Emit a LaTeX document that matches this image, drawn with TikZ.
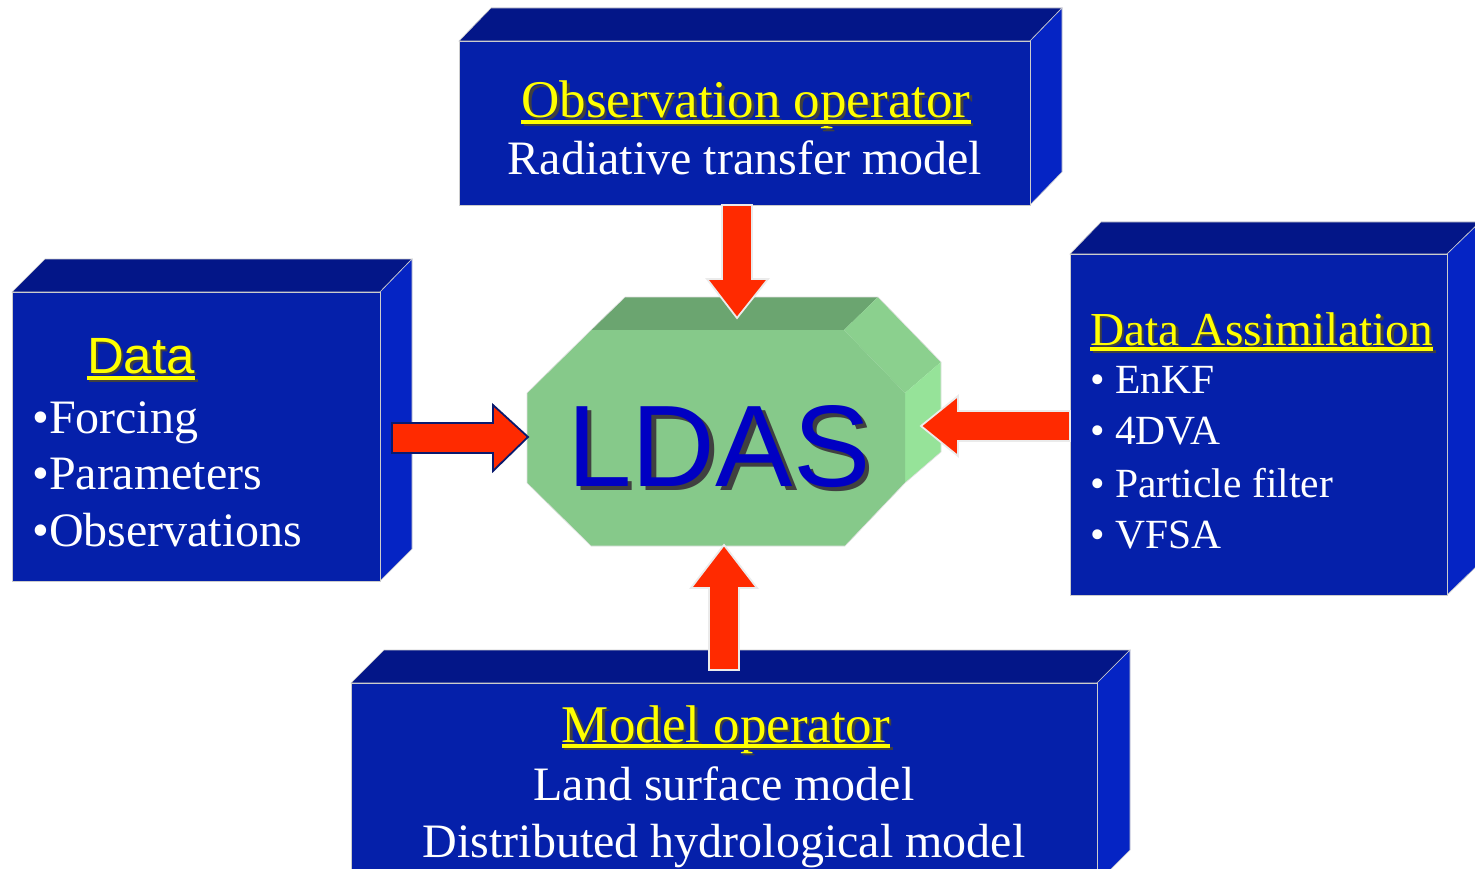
\documentclass[tikz,border=0pt]{standalone}
\usepackage{fontspec}
\setmainfont{Liberation Serif}
\newfontfamily\arialf{Liberation Sans}
\usetikzlibrary{calc}
\definecolor{boxfront}{RGB}{5,32,170}
\definecolor{boxtop}{RGB}{3,22,136}
\definecolor{boxside}{RGB}{5,36,196}
\definecolor{titleyellow}{RGB}{255,255,0}
\definecolor{arrowred}{RGB}{255,42,0}
\definecolor{ldastop}{RGB}{107,165,112}
\definecolor{ldasfront}{RGB}{134,201,138}
\definecolor{ldasdiag}{RGB}{139,208,142}
\definecolor{ldasside}{RGB}{150,227,153}
\definecolor{ldasblue}{RGB}{0,0,195}
\definecolor{navy}{RGB}{10,26,110}
% text with a drop shadow, set as one piece of text
\newcommand\shadowed[2]{\rlap{\hspace{#1}\raisebox{-#1}{\color{black!75}#2}}#2}
\newcommand\ultitle[6]{%
  \node[ttl,font=#4] (#1) at (#2,#3) {\shadowed{2.5pt}{#5}};
  \draw[black!75, line width=3.5pt] ($(#1.base west)+(2.5,#6+2.5)$) -- ($(#1.base east)+(2.5,#6+2.5)$);
  \draw[titleyellow, line width=3.5pt] ($(#1.base west)+(0,#6)$) -- ($(#1.base east)+(0,#6)$);
}
\begin{document}
\begin{tikzpicture}[x=1pt,y=-1pt,
  frontf/.style={fill=boxfront, draw=black!20, line width=0.6pt},
  topf/.style={fill=boxtop, draw=black!20, line width=0.6pt},
  sidef/.style={fill=boxside, draw=black!20, line width=0.6pt},
  ttl/.style={text=titleyellow, inner sep=0pt, anchor=base},
  body/.style={text=white, inner sep=0pt, anchor=base},
  blockarrow/.style={fill=arrowred, draw=black!8, line width=1.8pt, line join=miter},
  blockarrowdark/.style={fill=arrowred, draw=navy, line width=1.8pt, line join=miter}
]
\useasboundingbox (0,0) rectangle (1475,869);
\clip (0,0) rectangle (1475,869);
\fill[white] (0,0) rectangle (1475,869);

% ---------- Observation operator box ----------
\filldraw[topf] (459,41) -- (491,8) -- (1062,8) -- (1030,41) -- cycle;
\filldraw[sidef] (1030,41) -- (1062,8) -- (1062,172) -- (1030,205) -- cycle;
\filldraw[frontf] (459,41) rectangle (1030,205);
\ultitle{obsT}{746}{118}{\fontsize{53}{60}\selectfont}{Observation operator}{4}
\node[body,font=\fontsize{48}{56}\selectfont] (obsL) at (745,175) {Radiative transfer model};

% ---------- Data box ----------
\filldraw[topf] (12,292) -- (45,259) -- (412,259) -- (380,292) -- cycle;
\filldraw[sidef] (380,292) -- (412,259) -- (412,549) -- (380,581) -- cycle;
\filldraw[frontf] (12,292) rectangle (380,581);
\ultitle{dataT}{141}{373}{\arialf\fontsize{51}{58}\selectfont}{Data}{5}
\node[body,anchor=base west,font=\fontsize{48}{56}\selectfont] (d1) at (32,433) {•Forcing};
\node[body,anchor=base west,font=\fontsize{48}{56}\selectfont] (d2) at (32,489) {•Parameters};
\node[body,anchor=base west,font=\fontsize{48}{56}\selectfont] (d3) at (32,546) {•Observations};

% ---------- Data Assimilation box ----------
\filldraw[topf] (1070,254) -- (1101,222) -- (1480,222) -- (1447,254) -- cycle;
\filldraw[sidef] (1447,254) -- (1480,222) -- (1480,563) -- (1447,595) -- cycle;
\filldraw[frontf] (1070,254) rectangle (1447,595);
\node[ttl,anchor=base west,font=\fontsize{47.3}{54}\selectfont] (daT) at (1090,345) {\shadowed{2.5pt}{Data Assimilation}};
\draw[black!75, line width=3.5pt] ($(daT.base west)+(2.5,6.5)$) -- ($(daT.base east)+(2.5,6.5)$);
\draw[titleyellow, line width=3.5pt] ($(daT.base west)+(0,4)$) -- ($(daT.base east)+(0,4)$);
\node[body,anchor=base west,font=\fontsize{41.5}{48}\selectfont] (a1) at (1090,393) {• EnKF};
\node[body,anchor=base west,font=\fontsize{41.5}{48}\selectfont] (a2) at (1090,444) {• 4DVA};
\node[body,anchor=base west,font=\fontsize{41.5}{48}\selectfont] (a3) at (1090,497) {• Particle filter};
\node[body,anchor=base west,font=\fontsize{41.5}{48}\selectfont] (a4) at (1090,548) {• VFSA};

% ---------- Model operator box ----------
\filldraw[topf] (351,683) -- (384,650) -- (1130,650) -- (1097,683) -- cycle;
\filldraw[sidef] (1097,683) -- (1130,650) -- (1130,850) -- (1097,883) -- cycle;
\filldraw[frontf] (351,683) rectangle (1097,900);
\ultitle{modT}{726}{742}{\fontsize{53}{60}\selectfont}{Model operator}{4}
\node[body,font=\fontsize{48}{56}\selectfont] (m1) at (724,800) {Land surface model};
\node[body,font=\fontsize{48}{56}\selectfont] (m2) at (724,857) {Distributed hydrological model};

% ---------- LDAS block ----------
\fill[ldastop] (591,330) -- (625,297) -- (878,297) -- (844,330) -- cycle;
\fill[ldasdiag] (844,330) -- (878,297) -- (941,362) -- (905,393) -- cycle;
\fill[ldasside] (905,393) -- (941,362) -- (941,452) -- (905,483) -- cycle;
\fill[ldasfront] (591,330) -- (844,330) -- (905,393) -- (905,483) -- (845,546)
   -- (591,546) -- (527,483) -- (527,393) -- cycle;
\draw[black!12, line width=0.6pt] (625,297) -- (878,297) -- (941,362) -- (941,452) -- (905,483) -- (845,546)
   -- (591,546) -- (527,483) -- (527,393) -- (591,330) -- (625,297);
\node[inner sep=0pt, anchor=base, text=ldasblue, font=\arialf\fontsize{116}{120}\selectfont] (ldas) at (719,486) {\shadowed{4.5pt}{LDAS}};

% ---------- arrows ----------
\filldraw[blockarrow] (722,205) -- (752,205) -- (752,279) -- (768,279) -- (737,318)
   -- (707,279) -- (722,279) -- cycle;
\filldraw[blockarrow] (709,670) -- (709,588) -- (691,588) -- (724,545) -- (757,588)
   -- (739,588) -- (739,670) -- cycle;
\filldraw[blockarrowdark] (392,423) -- (493,423) -- (493,405) -- (528,437) -- (493,471)
   -- (493,453) -- (392,453) -- cycle;
\filldraw[blockarrow] (1070,411) -- (958,411) -- (958,396) -- (921,426) -- (958,456)
   -- (958,441) -- (1070,441) -- cycle;
\end{tikzpicture}
\end{document}
